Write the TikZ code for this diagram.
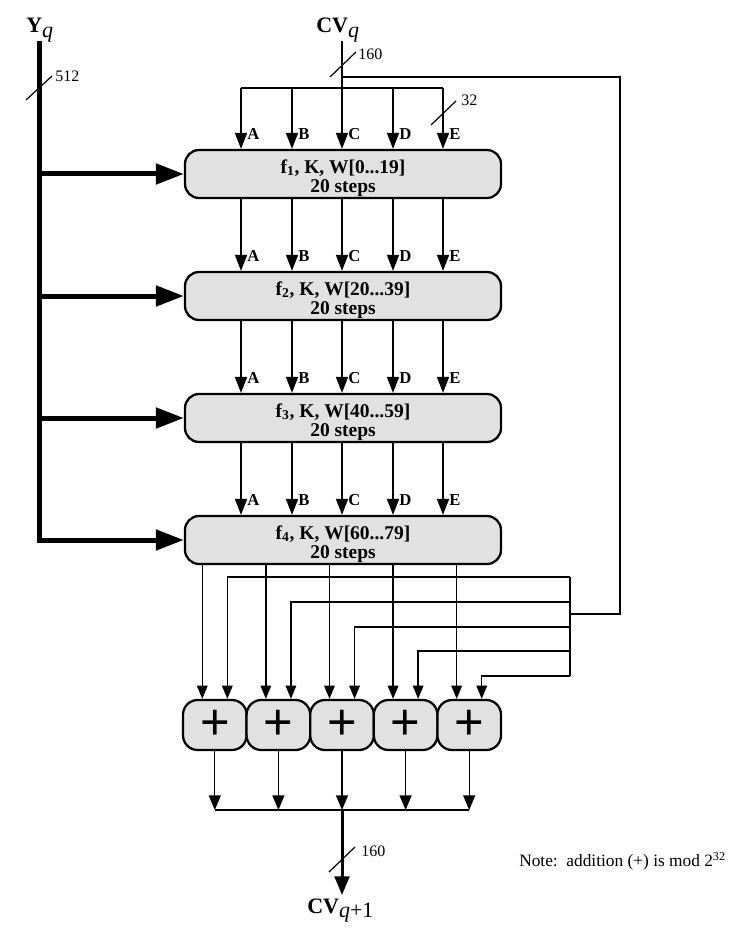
\documentclass[tikz,border=0pt]{standalone}
\usepackage{fontspec}
\setmainfont{Liberation Serif}
\setsansfont{Liberation Sans}
\usetikzlibrary{arrows.meta,calc}
\definecolor{boxfill}{RGB}{225,225,225}
\newcommand{\lowq}[1]{\raisebox{-3.5pt}{\normalfont #1}}
\begin{document}
\begin{tikzpicture}[x=0.75pt,y=-0.75pt,
  bigbox/.style={draw,line width=1.7pt,fill=boxfill,rounded corners=10.5pt,minimum width=237pt,minimum height=36pt,inner sep=0pt},
  boxlbl/.style={align=center,font=\bfseries\fontsize{14.6}{14.5}\selectfont,inner sep=0pt},
  addbox/.style={draw,line width=1.7pt,fill=boxfill,rounded corners=11pt,minimum width=47.7pt,minimum height=37.5pt,inner sep=0pt,font=\sffamily\fontsize{38}{38}\selectfont},
  letter/.style={font=\bfseries\fontsize{12.5}{12.5}\selectfont,inner sep=0pt,anchor=base west},
  num/.style={font=\fontsize{12}{12}\selectfont,inner sep=0pt,anchor=base west},
  biglbl/.style={font=\bfseries\fontsize{16.5}{16.5}\selectfont,inner sep=0pt,anchor=base west},
  notelbl/.style={font=\fontsize{13}{13}\selectfont,inner sep=0pt,anchor=base west},
  arr/.style={line width=1.3pt,-{Triangle[length=12pt,width=9pt]}},
  thinline/.style={line width=1pt},
  thinarr/.style={line width=1pt,-{Triangle[length=10pt,width=8pt]}},
  outarr/.style={line width=1pt,-{Triangle[length=11pt,width=9pt]}},
  mainarr/.style={line width=2.25pt,-{Triangle[length=14pt,width=11pt]}},
  cvbus/.style={line width=2.1pt},
  fbline/.style={line width=1.7pt},
  ybus/.style={line width=3.75pt},
  yarr/.style={line width=3.75pt,-{Triangle[length=21pt,width=15pt]}},
  slash/.style={line width=0.9pt}
]
\useasboundingbox (0,0) rectangle (728,930);

% labels at top
\node[biglbl] (yq) at (26,33) {Y\lowq{\textit{q}}};
\node[biglbl] (cvq) at (316,33) {CV\lowq{\textit{q}}};

% main boxes
\node[bigbox] (b1) at (343,174) {};
\node[bigbox] (b2) at (343,296) {};
\node[bigbox] (b3) at (343,418) {};
\node[bigbox] (b4) at (343,540) {};
\node[boxlbl] (t1) at (343,178) {f\textsubscript{1}, K, W[0...19]\\20 steps};
\node[boxlbl] (t2) at (343,300) {f\textsubscript{2}, K, W[20...39]\\20 steps};
\node[boxlbl] (t3) at (343,422) {f\textsubscript{3}, K, W[40...59]\\20 steps};
\node[boxlbl] (t4) at (343,544) {f\textsubscript{4}, K, W[60...79]\\20 steps};

% adders
\node[addbox] (s1) at (214.8,725) {+};
\node[addbox] (s2) at (278.4,725) {+};
\node[addbox] (s3) at (342,725) {+};
\node[addbox] (s4) at (405.6,725) {+};
\node[addbox] (s5) at (469.2,725) {+};

% Y input
\coordinate (ytop) at (39,41);
\draw[ybus,-{Triangle[length=21pt,width=15pt]}] (ytop) |- (b4.west);
\foreach \k in {1,2,3} \draw[yarr] (b\k.west -| ytop) -- (b\k.west);
\draw[slash] (26,100) -- (52,76);
\node[num] (n512) at (55,82) {512};

% CV input
\coordinate (cvtop) at (342,41);
\coordinate (fbj) at (342,77);
\coordinate (cvb) at (342,88);
\foreach \x/\l in {241/A,292/B,342/C,393/D,443/E} \coordinate (c\l) at (\x,88);
\draw[cvbus] (cvtop) -- (cvb);
\draw[cvbus] (cA) -- (cE);
\draw[slash] (330,77) -- (356,52);
\node[num] (n160a) at (358,60) {160};
\draw[slash] (431,125) -- (456,101);
\node[num] (n32) at (461,106) {32};

\foreach \l in {A,B,C,D,E} {
  \draw[arr] (c\l) -- (c\l |- b1.north);
  \draw[arr] (c\l |- b1.south) -- (c\l |- b2.north);
  \draw[arr] (c\l |- b2.south) -- (c\l |- b3.north);
  \draw[arr] (c\l |- b3.south) -- (c\l |- b4.north);
  \foreach \b in {1,2,3,4}
    \node[letter] (L\b\l) at ($(c\l |- b\b.north)+(6,-9)$) {\l};
}

% feedback
\coordinate (fbr) at (620,77);
\coordinate (fbd) at (620,614);
\coordinate (fbl) at (570,614);
\draw[fbline] (fbj) -- (fbr) -- (fbd) -- (fbl);
\coordinate (vt) at (570,577);
\coordinate (vb) at (570,676);
\draw[thinline] (vt) -- (vb);
\foreach \i/\y in {1/577,2/602,3/627,4/651,5/676} {
  \coordinate (fi\i) at (570,\y);
  \coordinate (ina\i) at ([xshift=-9.4pt]s\i.north);
  \coordinate (inb\i) at ([xshift=9.4pt]s\i.north);
  \draw[thinarr] (fi\i) -| (inb\i);
  \draw[thinarr] (ina\i |- b4.south) -- (ina\i);
}

% outputs
\coordinate (bus) at (342,810);
\foreach \i in {1,...,5} \draw[outarr] (s\i.south) -- (s\i.south |- bus);
\draw[thinline] (s1.south |- bus) -- (s5.south |- bus);
\coordinate (outtip) at (342,895);
\draw[mainarr] (bus) -- (outtip);
\draw[slash] (329,872) -- (355,847);
\node[num] (n160b) at (361,856) {160};
\node[biglbl] (cvout) at (307,913) {CV\lowq{\textit{q}+1}};

\node[notelbl] (note) at (519,866) {Note:\ \ addition (+) is mod 2\textsuperscript{32}};
\end{tikzpicture}
\end{document}
